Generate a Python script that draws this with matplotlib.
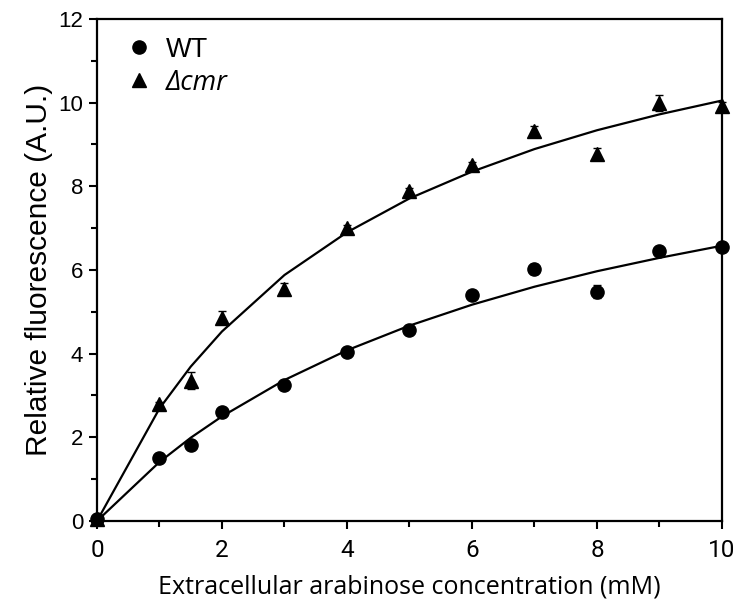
import matplotlib
matplotlib.use("Agg")
import matplotlib.pyplot as plt
from matplotlib.ticker import MultipleLocator
from matplotlib.lines import Line2D
from matplotlib import font_manager

conc = [0, 1, 1.5, 2, 3, 4, 5, 6, 7, 8, 9, 10]
wt_vals = [0.05, 1.51, 1.82, 2.61, 3.24, 4.04, 4.57, 5.40, 6.02, 5.48, 6.45, 6.55]
wt_err = [0.02, 0.05, 0.05, 0.06, 0.06, 0.05, 0.06, 0.07, 0.12, 0.15, 0.08, 0.08]
cmr_vals = [0.05, 2.79, 3.35, 4.86, 5.55, 7.00, 7.89, 8.51, 9.32, 8.77, 9.99, 9.92]
cmr_err = [0.02, 0.06, 0.2, 0.15, 0.15, 0.08, 0.08, 0.08, 0.12, 0.15, 0.2, 0.1]
wt_fit = [0, 1.41, 1.99, 2.50, 3.37, 4.08, 4.67, 5.17, 5.60, 5.97, 6.29, 6.58]
cmr_fit = [0, 2.69, 3.69, 4.53, 5.88, 6.90, 7.71, 8.35, 8.89, 9.34, 9.72, 10.05]

names = {f.name for f in font_manager.fontManager.ttflist}
narrow = "Liberation Sans Narrow" if "Liberation Sans Narrow" in names else "Roboto"

fig = plt.figure(figsize=(7.42, 6.08), dpi=100)
ax = fig.add_axes([0.1307, 0.1431, 0.973 - 0.1307, 0.9688 - 0.1431])

ax.plot(conc, wt_fit, color="black", lw=1.6, zorder=2)
ax.plot(conc, cmr_fit, color="black", lw=1.6, zorder=2)
ax.errorbar(conc, wt_vals, yerr=wt_err, fmt="o", color="black", ms=9.5,
            capsize=3, elinewidth=1, capthick=1, zorder=3, clip_on=False)
ax.errorbar(conc, cmr_vals, yerr=cmr_err, fmt="^", color="black", ms=10,
            capsize=3, elinewidth=1, capthick=1, zorder=3, clip_on=False)

ax.set_xlim(0, 10)
ax.set_ylim(0, 12)
ax.xaxis.set_major_locator(MultipleLocator(2))
ax.xaxis.set_minor_locator(MultipleLocator(1))
ax.yaxis.set_major_locator(MultipleLocator(2))
ax.yaxis.set_minor_locator(MultipleLocator(1))
ax.tick_params(which="major", direction="out", length=6, width=1.5)
ax.tick_params(which="minor", direction="out", length=4, width=1.5)
ax.tick_params(axis="x", which="major", pad=7)
ax.tick_params(axis="y", which="major", pad=4)
for s in ax.spines.values():
    s.set_linewidth(1.6)

for lab in ax.get_xticklabels():
    lab.set_fontfamily(narrow)
    lab.set_fontsize(17.5)
for lab in ax.get_yticklabels():
    lab.set_fontfamily("Liberation Sans")
    lab.set_fontsize(16)

ax.set_xlabel("Extracellular arabinose concentration (mM)", fontsize=18,
              family="Open Sans", labelpad=9)
ax.set_ylabel("Relative fluorescence (A.U.)", fontsize=21.5,
              family="Liberation Sans", labelpad=4)

handles = [Line2D([], [], ls="none", marker="o", color="black", ms=9.5),
           Line2D([], [], ls="none", marker="^", color="black", ms=10.5)]
leg = ax.legend(handles, ["WT", "\u0394cmr"], loc="upper left",
                bbox_to_anchor=(0.045, 0.965), frameon=False, fontsize=19.5,
                handlelength=1.0, handletextpad=0.5, borderpad=0,
                borderaxespad=0, labelspacing=0.23)
t = leg.get_texts()
t[0].set_family("Liberation Sans")
t[1].set_family("Open Sans")
t[1].set_style("italic")
t[1].set_fontsize(19.5)

fig.savefig("out.png", dpi=100)
